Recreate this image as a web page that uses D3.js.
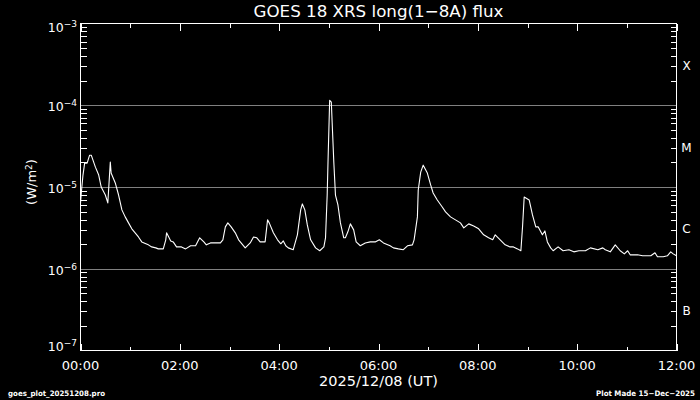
<!DOCTYPE html>
<html><head><meta charset="utf-8">
<script src="https://cdn.jsdelivr.net/npm/d3@7/dist/d3.min.js"></script>
<style>html,body{margin:0;padding:0;background:#000;}svg{display:block;}</style>
</head><body>
<svg id="chart" width="700" height="400"></svg>
<script>
// ---- data ----
const chartTitle = "GOES 18 XRS long(1\u22128A) flux";
const xAxisTitle = "2025/12/08 (UT)";
const yAxisTitleMain = "(W/m";
const yAxisTitleSup = "2";
const footerLeft = "goes_plot_20251208.pro";
const footerRight = "Plot Made 15\u2212Dec\u22122025";
const xMajorTickMinutes = [0, 120, 240, 360, 480, 600, 720];
const xTickLabels = ["00:00", "02:00", "04:00", "06:00", "08:00", "10:00", "12:00"];
const xMinorTickMinutes = [60, 180, 300, 420, 540, 660];
const yTickExponents = [-3, -4, -5, -6, -7];
const yGridExponents = [-4, -5, -6];
const flareClasses = ["X", "M", "C", "B"];
const flareClassExponents = [-3.5, -4.5, -5.5, -6.5];
const timeMinutes = [0, 1, 3, 5, 8, 11, 13, 18, 22, 25, 30, 33, 36, 37, 42, 46, 50, 54, 58, 62, 66, 70, 74, 79, 82, 86, 91, 94, 100, 103, 104, 109, 112, 116, 122, 127, 133, 139, 144, 149, 152, 157, 164, 169, 172, 175, 178, 182, 187, 191, 199, 205, 209, 213, 217, 223, 226, 228, 233, 238, 242, 245, 248, 251, 257, 262, 266, 268, 271, 274, 278, 284, 289, 294, 296, 298, 299, 301, 303, 304, 306, 308, 311, 314, 318, 320, 323, 326, 330, 333, 338, 344, 350, 356, 361, 366, 374, 378, 384, 390, 395, 401, 403, 407, 408, 411, 414, 419, 423, 426, 431, 437, 441, 447, 453, 459, 463, 469, 475, 481, 487, 493, 498, 501, 507, 513, 519, 523, 528, 532, 534, 536, 540, 542, 546, 550, 553, 558, 561, 564, 568, 571, 577, 583, 590, 596, 602, 610, 616, 625, 631, 634, 640, 646, 652, 657, 661, 664, 673, 679, 685, 689, 694, 697, 704, 709, 713, 716, 720];
const fluxValues = [6.4e-6, 8.5e-6, 1.4e-5, 1.96e-5, 1.96e-5, 2.45e-5, 2.45e-5, 1.75e-5, 1.40e-5, 1.0e-5, 7.98e-6, 6.38e-6, 2.02e-5, 1.48e-5, 1.12e-5, 7.98e-6, 5.25e-6, 4.31e-6, 3.64e-6, 3.08e-6, 2.75e-6, 2.45e-6, 2.13e-6, 2.02e-6, 1.96e-6, 1.85e-6, 1.80e-6, 1.75e-6, 1.75e-6, 2.26e-6, 2.75e-6, 2.19e-6, 2.13e-6, 1.85e-6, 1.85e-6, 1.75e-6, 1.91e-6, 1.91e-6, 2.39e-6, 2.13e-6, 1.96e-6, 2.07e-6, 2.07e-6, 2.07e-6, 2.26e-6, 3.25e-6, 3.64e-6, 3.25e-6, 2.75e-6, 2.26e-6, 1.80e-6, 2.07e-6, 2.45e-6, 2.39e-6, 2.13e-6, 2.13e-6, 3.96e-6, 3.64e-6, 2.75e-6, 2.26e-6, 2.02e-6, 2.19e-6, 1.91e-6, 1.80e-6, 1.71e-6, 2.60e-6, 5.25e-6, 6.21e-6, 5.25e-6, 3.44e-6, 2.26e-6, 1.80e-6, 1.66e-6, 1.85e-6, 2.39e-6, 7.98e-6, 2.02e-5, 1.15e-4, 1.09e-4, 6.2e-5, 2.02e-5, 7.98e-6, 6.03e-6, 3.64e-6, 2.39e-6, 2.39e-6, 2.83e-6, 3.54e-6, 2.99e-6, 2.13e-6, 1.91e-6, 2.07e-6, 2.13e-6, 2.13e-6, 2.26e-6, 2.07e-6, 1.91e-6, 1.80e-6, 1.75e-6, 1.71e-6, 1.91e-6, 1.96e-6, 2.26e-6, 4.31e-6, 9.19e-6, 1.52e-5, 1.85e-5, 1.48e-5, 1.06e-5, 8.45e-6, 6.94e-6, 5.70e-6, 4.96e-6, 4.31e-6, 3.96e-6, 3.64e-6, 3.16e-6, 3.54e-6, 3.34e-6, 3.08e-6, 2.60e-6, 2.39e-6, 2.26e-6, 2.60e-6, 2.26e-6, 1.96e-6, 1.85e-6, 1.85e-6, 1.75e-6, 1.66e-6, 3.25e-6, 7.55e-6, 7.14e-6, 6.94e-6, 4.56e-6, 3.25e-6, 3.25e-6, 2.60e-6, 2.90e-6, 2.13e-6, 1.80e-6, 1.66e-6, 1.85e-6, 1.66e-6, 1.71e-6, 1.61e-6, 1.66e-6, 1.66e-6, 1.80e-6, 1.71e-6, 1.80e-6, 1.71e-6, 1.61e-6, 1.96e-6, 1.66e-6, 1.52e-6, 1.66e-6, 1.48e-6, 1.48e-6, 1.44e-6, 1.44e-6, 1.44e-6, 1.57e-6, 1.40e-6, 1.40e-6, 1.44e-6, 1.61e-6, 1.52e-6, 1.44e-6];

// ---- chart ----
(function () {
const svg = d3.select("#chart");
const W = 700, H = 400;
const pL = 80.5, pR = 676.5, pT = 23.5, pB = 350.5;
const font = "DejaVu Sans, sans-serif";

svg.append("rect").attr("width", W).attr("height", H).attr("fill", "#000");

const x = d3.scaleLinear().domain([0, 720]).range([pL, pR]);
const y = d3.scaleLog().domain([1e-7, 1e-3]).range([pB, pT]);

// grid lines
svg.append("g").selectAll("line").data(yGridExponents).join("line")
  .attr("x1", pL).attr("x2", pR)
  .attr("y1", d => Math.round(y(Math.pow(10, d))) + 0.5)
  .attr("y2", d => Math.round(y(Math.pow(10, d))) + 0.5)
  .attr("stroke", "#808080").attr("stroke-width", 1)
  .attr("shape-rendering", "crispEdges");

// minor y tick values
const yMinor = [];
for (let k = -7; k <= -4; k++) for (let m = 2; m <= 9; m++) yMinor.push(m * Math.pow(10, k));

function styleAxis(g) {
  g.select(".domain").remove();
  g.selectAll(".tick line").attr("stroke", "#fff").attr("shape-rendering", "crispEdges");
  g.selectAll(".tick text").remove();
}

svg.append("g").attr("transform", `translate(0,${pB})`)
  .call(d3.axisBottom(x).tickValues(xMajorTickMinutes).tickSize(-7).tickFormat("")).call(styleAxis);
svg.append("g").attr("transform", `translate(0,${pB})`)
  .call(d3.axisBottom(x).tickValues(xMinorTickMinutes).tickSize(-4).tickFormat("")).call(styleAxis);
svg.append("g").attr("transform", `translate(0,${pT})`)
  .call(d3.axisTop(x).tickValues(xMajorTickMinutes).tickSize(-7).tickFormat("")).call(styleAxis);
svg.append("g").attr("transform", `translate(0,${pT})`)
  .call(d3.axisTop(x).tickValues(xMinorTickMinutes).tickSize(-4).tickFormat("")).call(styleAxis);
svg.append("g").attr("transform", `translate(${pL},0)`)
  .call(d3.axisLeft(y).tickValues(yMinor).tickSize(-6).tickFormat("")).call(styleAxis);
svg.append("g").attr("transform", `translate(${pR},0)`)
  .call(d3.axisRight(y).tickValues(yMinor).tickSize(-6).tickFormat("")).call(styleAxis);

// frame
svg.append("rect").attr("x", pL).attr("y", pT)
  .attr("width", pR - pL).attr("height", pB - pT)
  .attr("fill", "none").attr("stroke", "#fff").attr("stroke-width", 1)
  .attr("shape-rendering", "crispEdges");

// data line
const line = d3.line().x((d, i) => x(timeMinutes[i])).y(d => y(d));
svg.append("path").datum(fluxValues)
  .attr("d", line).attr("fill", "none")
  .attr("stroke", "#fff").attr("stroke-width", 1.1)
  .attr("stroke-linejoin", "round");

// x tick labels
svg.append("g").selectAll("text").data(xTickLabels).join("text")
  .attr("x", (d, i) => x(xMajorTickMinutes[i]))
  .attr("y", 369.5)
  .attr("text-anchor", "middle")
  .attr("font-family", font).attr("font-size", 13).attr("fill", "#fff")
  .text(d => d);

// x axis title
svg.append("text").attr("x", (pL + pR) / 2).attr("y", 385.5)
  .attr("text-anchor", "middle").attr("font-family", font).attr("font-size", 14)
  .attr("textLength", 119).attr("lengthAdjust", "spacingAndGlyphs")
  .attr("fill", "#fff").text(xAxisTitle);

// y tick labels
const yl = svg.append("g").selectAll("text").data(yTickExponents).join("text")
  .attr("x", 77)
  .attr("y", d => Math.min(Math.max(y(Math.pow(10, d)) + 6, 32), 351))
  .attr("text-anchor", "end")
  .attr("font-family", font).attr("font-size", 12.5).attr("fill", "#fff");
yl.append("tspan").text("10");
yl.append("tspan").attr("dy", -5).attr("font-size", 9).text(d => "\u2212" + Math.abs(d));

// y axis title
const yt = svg.append("text")
  .attr("transform", "translate(36,182) rotate(-90)")
  .attr("text-anchor", "middle").attr("font-family", font).attr("font-size", 13)
  .attr("fill", "#fff");
yt.append("tspan").text(yAxisTitleMain);
yt.append("tspan").attr("dy", -4).attr("font-size", 9).text(yAxisTitleSup);
yt.append("tspan").attr("dy", 4).text(")");

// flare class labels (right)
svg.append("g").selectAll("text").data(flareClasses).join("text")
  .attr("x", 686.5)
  .attr("y", (d, i) => y(Math.pow(10, flareClassExponents[i])) + 5.5)
  .attr("text-anchor", "middle")
  .attr("font-family", font).attr("font-size", 12).attr("fill", "#fff")
  .text(d => d);

// title
svg.append("text").attr("x", (pL + pR) / 2).attr("y", 17)
  .attr("text-anchor", "middle").attr("font-family", font).attr("font-size", 16.7)
  .attr("fill", "#fff").text(chartTitle);

// footers
svg.append("text").attr("x", 8).attr("y", 396)
  .attr("font-family", font).attr("font-size", 7.5).attr("font-weight", "bold")
  .attr("textLength", 97).attr("lengthAdjust", "spacingAndGlyphs")
  .attr("fill", "#fff").text(footerLeft);
svg.append("text").attr("x", 695).attr("y", 396)
  .attr("text-anchor", "end")
  .attr("font-family", font).attr("font-size", 7.5).attr("font-weight", "bold")
  .attr("textLength", 99).attr("lengthAdjust", "spacingAndGlyphs")
  .attr("fill", "#fff").text(footerRight);
})();
</script>
</body></html>
